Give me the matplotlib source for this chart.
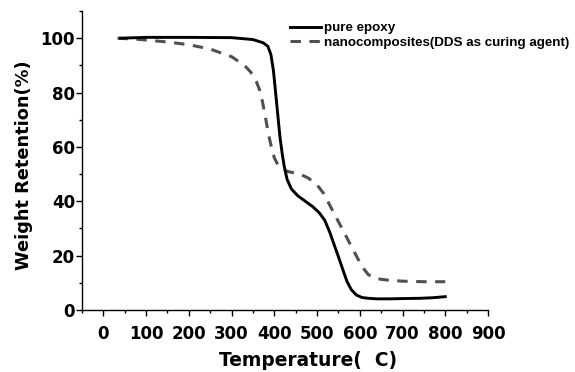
import matplotlib
matplotlib.use("Agg")
import matplotlib.pyplot as plt
from matplotlib.ticker import MultipleLocator

# ── Data ──────────────────────────────────────────────────────────────────────
epoxy_temp = [40, 100, 200, 300, 350, 374, 385, 392, 398, 403, 408, 413, 418,
              423, 430, 440, 455, 470, 490, 505, 518, 530, 540, 550, 560, 570,
              580, 592, 605, 620, 640, 670, 700, 740, 770, 800]
epoxy_weight = [100, 100.3, 100.3, 100.2, 99.5, 98.3, 97, 94, 88, 80, 72, 64,
                58, 53, 48, 44.5, 42, 40.3, 38, 35.8, 33, 28.5, 24, 19.6, 15,
                10.5, 7.5, 5.5, 4.6, 4.3, 4.1, 4.1, 4.2, 4.3, 4.5, 4.9]

nano_temp = [33, 80, 150, 200, 250, 300, 330, 345, 358, 368, 378, 386, 393,
             400, 408, 418, 430, 445, 460, 480, 500, 515, 530, 545, 560, 575,
             590, 605, 620, 640, 665, 700, 750, 800]
nano_weight = [100, 99.6, 98.6, 97.6, 96, 93.2, 90, 87.5, 84, 80, 72, 65, 60,
               56, 53.5, 52, 51, 50.5, 50, 48.5, 46, 43, 38.5, 34, 29.5, 25,
               20.5, 16, 13, 11.5, 11, 10.6, 10.4, 10.4]

series_labels = ["pure epoxy", "nanocomposites(DDS as curing agent)"]
x_ticks = list(range(0, 901, 100))
y_ticks = list(range(0, 101, 20))

# ── Plot ──────────────────────────────────────────────────────────────────────
# axis text in the original is wide and heavy, DejaVu Bold fits it best
WIDE = ["DejaVu Sans"]
plt.rcParams["font.family"] = ["Liberation Sans", "DejaVu Sans"]
plt.rcParams["font.weight"] = "bold"

fig = plt.figure(figsize=(5.75, 3.72), dpi=100)
ax = fig.add_axes([0.1426, 0.1667, 0.7061, 0.8037])

ax.plot(epoxy_temp, epoxy_weight, color="black", linewidth=2.1,
        label=series_labels[0], zorder=3)
ax.plot(nano_temp, nano_weight, color="#505050", linewidth=2.2,
        linestyle=(0, (3.4, 2.8)), label=series_labels[1], zorder=2)

ax.set_xlim(-50, 900)
ax.set_ylim(0, 110)
ax.set_xticks(x_ticks)
ax.set_yticks(y_ticks)
ax.xaxis.set_minor_locator(MultipleLocator(50))
ax.yaxis.set_minor_locator(MultipleLocator(10))
ax.tick_params(which="major", direction="out", length=4, width=1)
ax.tick_params(which="minor", direction="out", length=2.2, width=1)
ax.tick_params(axis="y", pad=1)
ax.tick_params(axis="x", pad=7)

for side in ("top", "right"):
    ax.spines[side].set_visible(False)
for side in ("left", "bottom"):
    ax.spines[side].set_linewidth(1)

for lbl in ax.get_xticklabels() + ax.get_yticklabels():
    lbl.set_fontfamily(WIDE)
    lbl.set_fontweight("bold")
    lbl.set_fontsize(12)

fig.text(308 / 575, 6 / 372, "Temperature(  C)", family=WIDE,
         fontsize=13.4, fontweight="bold", ha="center", va="baseline")
fig.text(24 / 575, 0.555, "Weight Retention(%)", family=WIDE,
         fontsize=12.8, fontweight="bold", ha="center", va="center",
         rotation=90)

leg = fig.legend(loc="upper left", bbox_to_anchor=(290 / 575, 1 - 22 / 372),
                 frameon=False, fontsize=9.6, handlelength=2.3,
                 handletextpad=0.25, labelspacing=0.15, borderpad=0,
                 borderaxespad=0)
for txt in leg.get_texts():
    txt.set_fontweight("bold")

fig.savefig("out.png", dpi=100)
